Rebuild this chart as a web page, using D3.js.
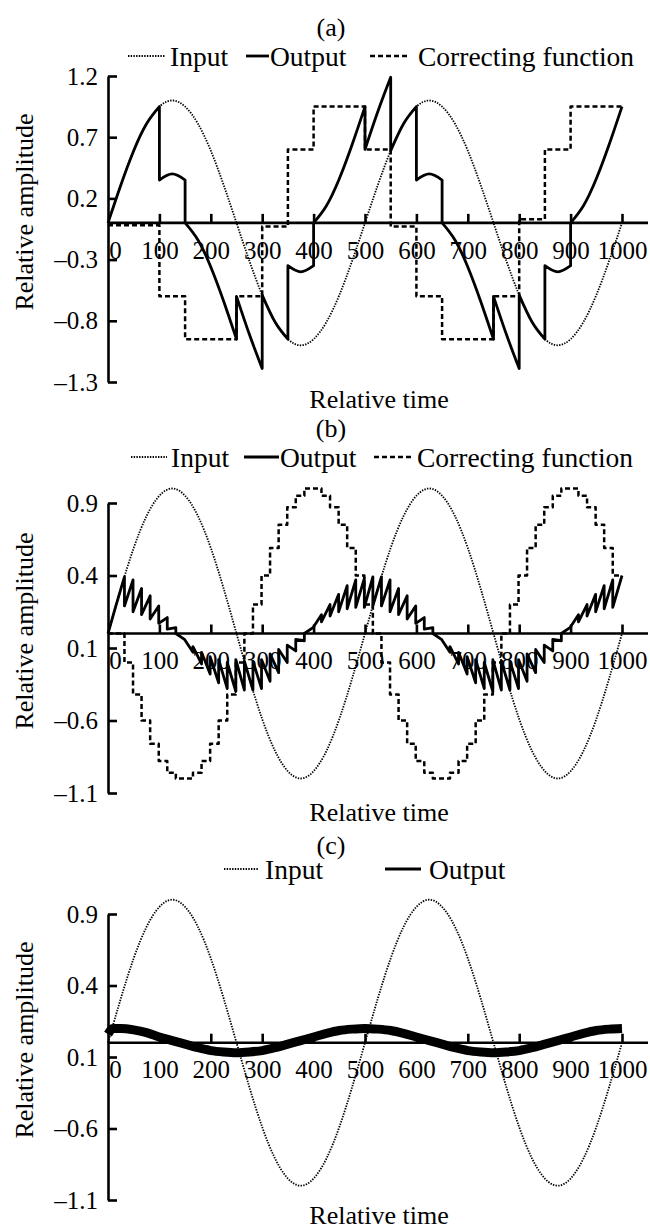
<!DOCTYPE html>
<html>
<head>
<meta charset="utf-8">
<script src="https://cdn.jsdelivr.net/npm/d3@7"></script>
<style>
  body { margin: 0; background: #fff; }
  svg text { font-family: "Liberation Serif", "Times New Roman", serif; fill: #000; }
</style>
</head>
<body>
<svg id="canvas"></svg>
<script>
// ---- data ----
let timeTicks = [0, 100, 200, 300, 400, 500, 600, 700, 800, 900, 1000];

// input sine (same in all three panels), every 25 time units
let inputTimes = [0, 25, 50, 75, 100, 125, 150, 175, 200, 225, 250, 275, 300, 325, 350, 375, 400, 425, 450, 475, 500,
  525, 550, 575, 600, 625, 650, 675, 700, 725, 750, 775, 800, 825, 850, 875, 900, 925, 950, 975, 1000];
let inputValues = [0, 0.31, 0.59, 0.81, 0.95, 1.0, 0.95, 0.81, 0.59, 0.31, 0, -0.31, -0.59, -0.81, -0.95, -1.0, -0.95, -0.81, -0.59, -0.31, 0,
  0.31, 0.59, 0.81, 0.95, 1.0, 0.95, 0.81, 0.59, 0.31, 0, -0.31, -0.59, -0.81, -0.95, -1.0, -0.95, -0.81, -0.59, -0.31, 0];

// (a)
let ampTicksA = [1.2, 0.7, 0.2, -0.3, -0.8, -1.3];
let ampLabelsA = ["1.2", "0.7", "0.2", "\u20130.3", "\u20130.8", "\u20131.3"];
let outputSegmentsA = [
  [[0, 0], [25, 0.31], [50, 0.59], [75, 0.81], [100, 0.95]],
  [[100, 0.35], [125, 0.4], [150, 0.35]],
  [[150, 0], [175, -0.14], [200, -0.36], [225, -0.64], [250, -0.95]],
  [[250, -0.6], [275, -0.91], [300, -1.19]],
  [[300, -0.59], [325, -0.81], [350, -0.95]],
  [[350, -0.35], [375, -0.4], [400, -0.35]],
  [[400, 0], [425, 0.14], [450, 0.36], [475, 0.64], [500, 0.95]],
  [[500, 0.6], [525, 0.91], [550, 1.19]],
  [[550, 0.59], [575, 0.81], [600, 0.95]],
  [[600, 0.35], [625, 0.4], [650, 0.35]],
  [[650, 0], [675, -0.14], [700, -0.36], [725, -0.64], [750, -0.95]],
  [[750, -0.6], [775, -0.91], [800, -1.19]],
  [[800, -0.59], [825, -0.81], [850, -0.95]],
  [[850, -0.35], [875, -0.4], [900, -0.35]],
  [[900, 0], [925, 0.14], [950, 0.36], [975, 0.64], [1000, 0.95]]
];
let corrTimesA = [0, 100, 150, 250, 300, 350, 400, 500, 550, 600, 650, 750, 800, 850, 900, 1000];
let corrValuesA = [-0.02, -0.6, -0.95, -0.6, -0.03, 0.6, 0.95, 0.6, -0.03, -0.6, -0.95, -0.6, 0.03, 0.6, 0.95, 0.95];

// (b)
let ampTicksB = [0.9, 0.4, -0.1, -0.6, -1.1];
let ampLabelsB = ["0.9", "0.4", "0.1", "\u20130.6", "\u20131.1"];
let stepTimesB = [0, 15.3, 32, 48.7, 65.3, 82, 98.7, 115.3, 132, 148.7, 165.3, 182, 198.7, 215.3, 232, 248.7, 265.3,
  282, 298.7, 315.3, 332, 348.7, 365.3, 382, 398.7, 415.3, 432, 448.7, 465.3, 482, 498.7, 515.3, 532, 548.7, 565.3,
  582, 598.7, 615.3, 632, 648.7, 665.3, 682, 698.7, 715.3, 732, 748.7, 765.3, 782, 798.7, 815.3, 832, 848.7, 865.3,
  882, 898.7, 915.3, 932, 948.7, 965.3, 982, 1000];
let corrLevelsB = [0, 0, -0.2, -0.42, -0.6, -0.76, -0.88, -0.96, -1.0, -1.0, -0.96, -0.88, -0.76, -0.6, -0.42, -0.2,
  0, 0.2, 0.4, 0.59, 0.75, 0.87, 0.95, 1.0, 1.0, 0.95, 0.87, 0.75, 0.59, 0.4, 0.2, 0,
  -0.2, -0.42, -0.6, -0.76, -0.88, -0.96, -1.0, -1.0, -0.96, -0.88, -0.76, -0.6, -0.42, -0.2,
  0, 0.2, 0.4, 0.59, 0.75, 0.87, 0.95, 1.0, 1.0, 0.95, 0.87, 0.75, 0.59, 0.4];
let outStartB = [0, 0.19, 0.19, 0.15, 0.13, 0.10, 0.07, 0.03, 0.0, -0.04, -0.09, -0.13, -0.16, -0.18, -0.20, -0.18,
  -0.19, -0.19, -0.18, -0.14, -0.11, -0.08, -0.04, 0.0, 0.04, 0.08, 0.12, 0.15, 0.17, 0.18, 0.18, 0.19,
  0.19, 0.15, 0.13, 0.10, 0.07, 0.03, 0.0, -0.04, -0.09, -0.13, -0.16, -0.18, -0.20, -0.18,
  -0.19, -0.19, -0.18, -0.14, -0.11, -0.08, -0.04, 0.0, 0.04, 0.08, 0.12, 0.15, 0.17, 0.18];
let outEndB = [0.19, 0.39, 0.37, 0.31, 0.26, 0.19, 0.11, 0.04, -0.04, -0.13, -0.21, -0.28, -0.34, -0.38, -0.40, -0.39,
  -0.39, -0.38, -0.33, -0.27, -0.20, -0.12, -0.05, 0.04, 0.13, 0.20, 0.27, 0.33, 0.37, 0.38, 0.39, 0.39,
  0.37, 0.31, 0.26, 0.19, 0.11, 0.04, -0.04, -0.13, -0.21, -0.28, -0.34, -0.38, -0.40, -0.39,
  -0.39, -0.38, -0.33, -0.27, -0.20, -0.12, -0.05, 0.04, 0.13, 0.20, 0.27, 0.33, 0.37, 0.40];

// (c)
let ampTicksC = [0.9, 0.4, -0.1, -0.6, -1.1];
let ampLabelsC = ["0.9", "0.4", "0.1", "\u20130.6", "\u20131.1"];
let outTimesC = [0, 10, 25, 50, 75, 100, 125, 150, 175, 200, 225, 250, 275, 300, 325, 350, 375, 400, 425, 450, 475, 500,
  525, 550, 575, 600, 625, 650, 675, 700, 725, 750, 775, 800, 825, 850, 875, 900, 925, 950, 975, 1000];
let outValuesC = [0.06, 0.1, 0.1, 0.09, 0.07, 0.04, 0.015, -0.01, -0.035, -0.055, -0.065, -0.07, -0.065, -0.055, -0.035, -0.01,
  0.015, 0.04, 0.065, 0.085, 0.095, 0.1, 0.095, 0.085, 0.065, 0.04, 0.015, -0.01, -0.035, -0.055, -0.065, -0.07, -0.065,
  -0.055, -0.035, -0.01, 0.015, 0.04, 0.065, 0.085, 0.095, 0.1];

let legendNames = ["Input", "Output", "Correcting function"];

// ---- layout ----
let width = 650;
let height = 1231;
let xLeft = 108;
let xRight = 622;

let canvas = d3.select("#canvas").attr("width", width).attr("height", height);
let xScale = d3.scaleLinear().domain([0, 1000]).range([xLeft, xRight]);

let styles = {
  input: { width: 1.8, dash: "1.4,1.3" },
  output: { width: 2.8, dash: null },
  corr: { width: 2.5, dash: "5,3" }
};

let panels = [
  {
    letter: "(a)", domain: [-1.3, 1.2], range: [382, 76], ticks: ampTicksA, labels: ampLabelsA,
    titleY: 27, legendY: 56, timeY: 399,
    legend: [
      { kind: "input", name: legendNames[0], x1: 128, x2: 165, tx: 170 },
      { kind: "output", name: legendNames[1], x1: 246, x2: 269, tx: 270 },
      { kind: "corr", name: legendNames[2], x1: 370, x2: 410, tx: 418 }
    ]
  },
  {
    letter: "(b)", domain: [-1.1, 0.9], range: [793, 503], ticks: ampTicksB, labels: ampLabelsB,
    titleY: 428, legendY: 457, timeY: 812,
    legend: [
      { kind: "input", name: legendNames[0], x1: 131, x2: 167, tx: 171 },
      { kind: "output", name: legendNames[1], x1: 244, x2: 279, tx: 280 },
      { kind: "corr", name: legendNames[2], x1: 374, x2: 412, tx: 417 }
    ]
  },
  {
    letter: "(c)", domain: [-1.1, 0.9], range: [1200, 914], ticks: ampTicksC, labels: ampLabelsC,
    titleY: 845, legendY: 869, timeY: 1215,
    legend: [
      { kind: "input", name: legendNames[0], x1: 224, x2: 258, tx: 265 },
      { kind: "output", name: legendNames[1], x1: 385, x2: 421, tx: 429 }
    ]
  }
];

let applyStyle = (sel, kind) => {
  sel.attr("fill", "none")
    .attr("stroke", "#000")
    .attr("stroke-width", styles[kind].width)
    .attr("stroke-dasharray", styles[kind].dash)
    .attr("stroke-linejoin", "round");
};

let drawFrame = (p, yScale) => {
  let g = canvas.append("g");

  let yAxis = d3.axisLeft(yScale)
    .tickValues(p.ticks)
    .tickFormat((d, i) => p.labels[i])
    .tickSizeInner(-9)
    .tickSizeOuter(0)
    .tickPadding(10);
  let ya = g.append("g")
    .attr("transform", "translate(" + xLeft + ",0)")
    .call(yAxis)
    .attr("font-family", null)
    .attr("font-size", 25);
  ya.selectAll("path, line").attr("stroke-width", 2.6);

  let y0 = yScale(0);
  g.append("line")
    .attr("x1", xLeft).attr("x2", 648)
    .attr("y1", y0).attr("y2", y0)
    .attr("stroke", "#000").attr("stroke-width", 2.6);

  let xAxis = d3.axisBottom(xScale)
    .tickValues(timeTicks)
    .tickFormat(d3.format("d"))
    .tickSizeInner(-9)
    .tickSizeOuter(0)
    .tickPadding(18);
  let xa = g.append("g")
    .attr("transform", "translate(0," + y0 + ")")
    .call(xAxis)
    .attr("font-family", null)
    .attr("font-size", 25);
  xa.select(".domain").remove();
  xa.selectAll("line").attr("stroke-width", 2.6);
  xa.selectAll(".tick").filter((d) => d === 0).select("line").remove();
  xa.selectAll(".tick").filter((d) => d === 0).select("text").attr("x", 7);

  let midY = (p.range[0] + p.range[1]) / 2 - 17;
  g.append("text")
    .attr("transform", "translate(24," + midY + ") rotate(-90)")
    .attr("text-anchor", "middle")
    .attr("dy", "0.35em")
    .attr("font-size", 26)
    .text("Relative amplitude");

  g.append("text")
    .attr("x", 379).attr("y", p.timeY)
    .attr("text-anchor", "middle").attr("dy", "0.35em")
    .attr("font-size", 26)
    .text("Relative time");

  g.append("text")
    .attr("x", 331).attr("y", p.titleY)
    .attr("text-anchor", "middle").attr("dy", "0.35em")
    .attr("font-size", 26)
    .text(p.letter);

  p.legend.forEach((item) => {
    g.append("line")
      .attr("x1", item.x1).attr("x2", item.x2)
      .attr("y1", p.legendY).attr("y2", p.legendY)
      .call(applyStyle, item.kind);
    g.append("text")
      .attr("x", item.tx).attr("y", p.legendY)
      .attr("dy", "0.35em")
      .attr("font-size", 27.5)
      .text(item.name);
  });
};

let drawInput = (yScale) => {
  let line = d3.line()
    .x((d, i) => xScale(inputTimes[i]))
    .y((d) => yScale(d))
    .curve(d3.curveNatural);
  canvas.append("path").attr("d", line(inputValues)).call(applyStyle, "input");
};

let drawPanelA = (yScale) => {
  drawInput(yScale);

  let corrLine = d3.line()
    .x((d, i) => xScale(corrTimesA[i]))
    .y((d) => yScale(d))
    .curve(d3.curveStepAfter);
  canvas.append("path").attr("d", corrLine(corrValuesA)).call(applyStyle, "corr");

  let segLine = d3.line()
    .x((d) => xScale(d[0]))
    .y((d) => yScale(d[1]))
    .curve(d3.curveNatural);
  let pathD = outputSegmentsA
    .map((seg, i) => (i === 0 ? segLine(seg) : segLine(seg).replace(/^M/, "L")))
    .join("");
  canvas.append("path").attr("d", pathD).call(applyStyle, "output");
};

let drawPanelB = (yScale) => {
  drawInput(yScale);

  let corrPoints = corrLevelsB.map((v, i) => [stepTimesB[i], v]);
  corrPoints.push([1000, corrLevelsB[corrLevelsB.length - 1]]);
  let corrLine = d3.line()
    .x((d) => xScale(d[0]))
    .y((d) => yScale(d[1]))
    .curve(d3.curveStepAfter);
  canvas.append("path").attr("d", corrLine(corrPoints)).call(applyStyle, "corr");

  let outPoints = [];
  outStartB.forEach((v, i) => {
    outPoints.push([stepTimesB[i], v]);
    outPoints.push([stepTimesB[i + 1], outEndB[i]]);
  });
  let outLine = d3.line()
    .x((d) => xScale(d[0]))
    .y((d) => yScale(d[1]));
  canvas.append("path").attr("d", outLine(outPoints)).call(applyStyle, "output");
};

let drawPanelC = (yScale) => {
  drawInput(yScale);

  let outLine = d3.line()
    .x((d, i) => xScale(outTimesC[i]))
    .y((d) => yScale(d))
    .curve(d3.curveMonotoneX);
  canvas.append("path").attr("d", outLine(outValuesC))
    .call(applyStyle, "output")
    .attr("stroke-width", 9)
    .attr("stroke-linecap", "butt");
};

let drawers = [drawPanelA, drawPanelB, drawPanelC];

panels.forEach((p, i) => {
  let yScale = d3.scaleLinear().domain(p.domain).range(p.range);
  drawers[i](yScale);
  drawFrame(p, yScale);
});
</script>
</body>
</html>
